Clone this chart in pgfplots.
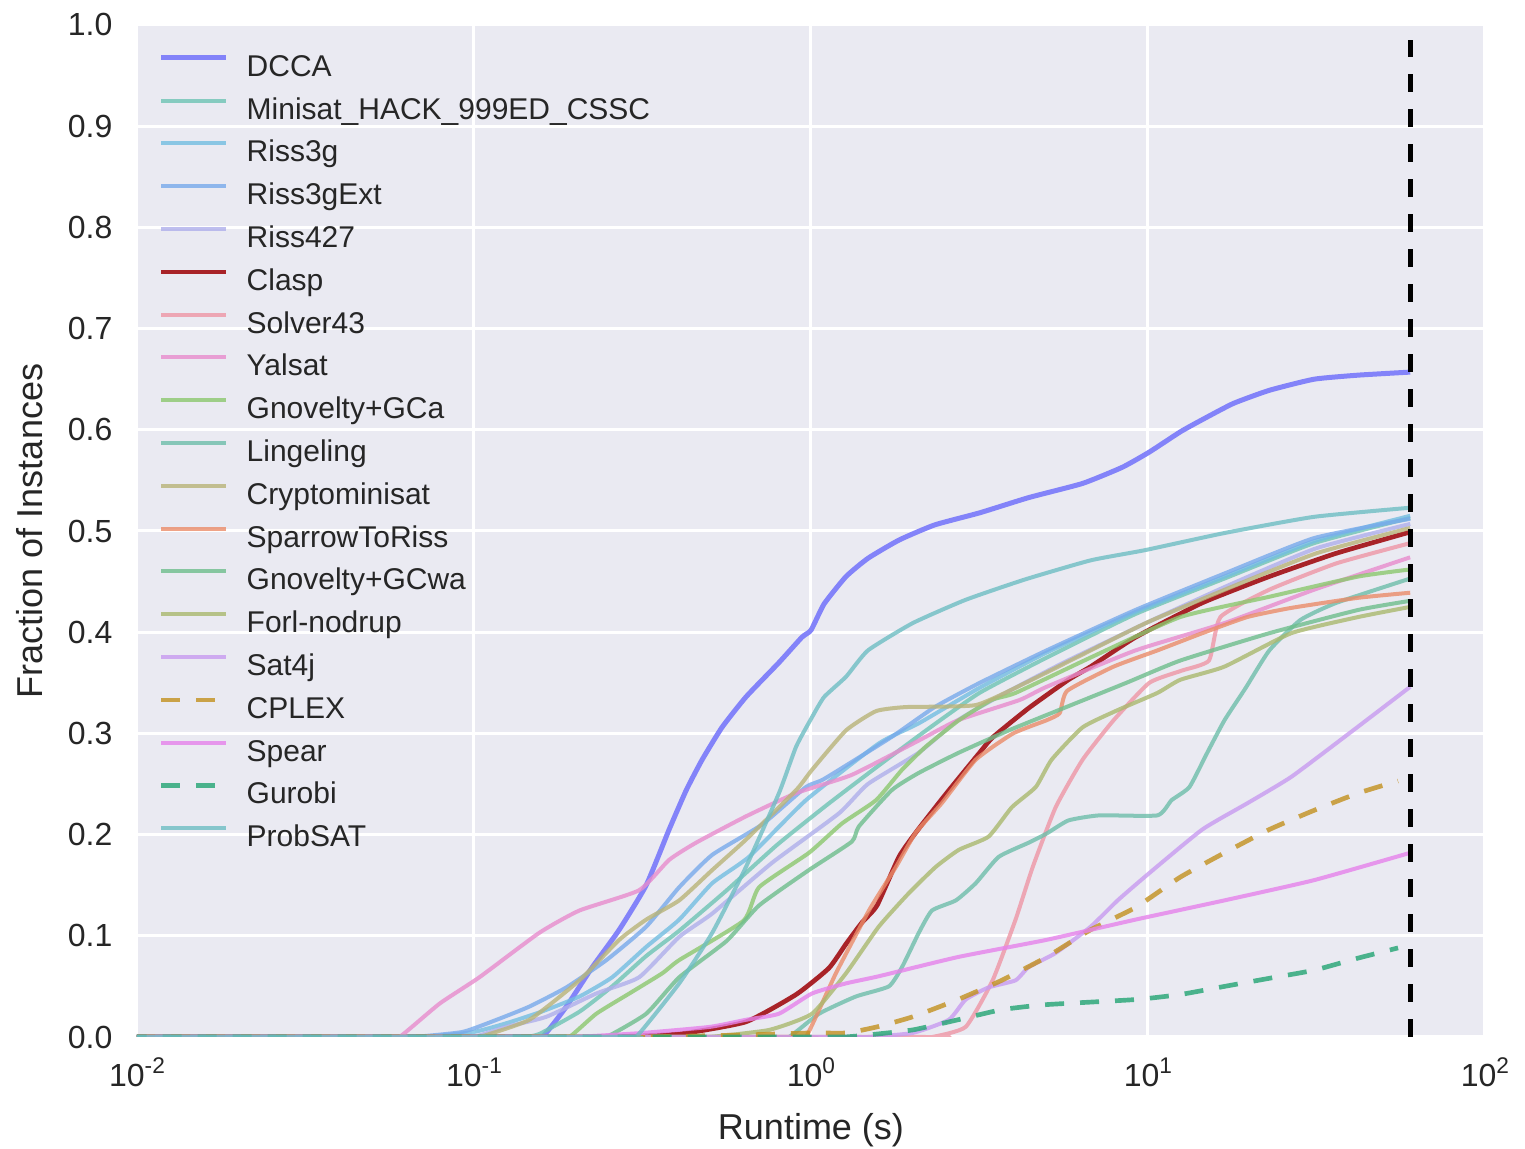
\documentclass[border=0pt]{standalone}
\usepackage{pgfplots}
\pgfplotsset{compat=1.18}
\usepackage{fontspec}
\setmainfont{Liberation Sans}
\definecolor{bgc}{RGB}{234,234,242}
\definecolor{txt}{RGB}{38,38,38}
\definecolor{cdcca}{RGB}{120,120,250}
\definecolor{cminisat}{RGB}{110,196,180}
\definecolor{criss}{RGB}{115,190,225}
\definecolor{crissext}{RGB}{120,170,235}
\definecolor{criss427}{RGB}{175,175,235}
\definecolor{cclasp}{RGB}{165,25,30}
\definecolor{csolver}{RGB}{238,150,165}
\definecolor{cyalsat}{RGB}{232,140,205}
\definecolor{cgca}{RGB}{140,200,110}
\definecolor{cling}{RGB}{110,190,170}
\definecolor{ccrypto}{RGB}{185,180,120}
\definecolor{csparrow}{RGB}{235,140,105}
\definecolor{cgcwa}{RGB}{110,190,140}
\definecolor{cforl}{RGB}{170,185,110}
\definecolor{csat}{RGB}{200,155,240}
\definecolor{ccplex}{RGB}{195,145,30}
\definecolor{cspear}{RGB}{230,130,235}
\definecolor{cgurobi}{RGB}{35,165,115}
\definecolor{cprob}{RGB}{110,190,195}
\newcommand{\tp}[1]{10\raisebox{0.42em}{\fontsize{6.8}{7}\selectfont #1}}
\begin{document}
\begin{tikzpicture}
\begin{axis}[
  scale only axis, width=404.4pt, height=303.6pt,
  xmin=-2, xmax=2, ymin=0, ymax=1,
  axis background/.style={fill=bgc},
  axis line style={draw=none},
  major tick length=0pt,
  grid=major, grid style={white, line width=0.9pt},
  xtick={-2,-1,0,1,2},
  xticklabels={\tp{-2},\tp{-1},\tp{0},\tp{1},\tp{2}},
  ytick={0,0.1,0.2,0.3,0.4,0.5,0.6,0.7,0.8,0.9,1.0},
  /pgf/number format/fixed, /pgf/number format/fixed zerofill, /pgf/number format/precision=1, /pgf/number format/assume math mode=true,
  ticklabel style={font=\fontsize{9.6}{11}\selectfont, text=txt},
  yticklabel style={inner sep=0pt, xshift=-7.2pt},
  xticklabel style={inner sep=0pt, yshift=-6pt},
  xlabel={Runtime (s)}, ylabel={Fraction of Instances},
  label style={font=\fontsize{10.8}{13}\selectfont, text=txt},
  xlabel style={at={(axis description cs:0.5,-0.0919)}, anchor=center},
  ylabel style={at={(axis description cs:-0.0794,0.5)}, anchor=center},
  every axis plot/.append style={line width=1.2pt, opacity=0.8, line join=round, smooth, tension=0.3},
  legend image code/.code={\draw[#1] (0pt,3.2pt) -- (19.5pt,3.2pt); \path (0pt,0pt);},
  legend cell align=left,
  legend style={at={(0.0156,0.97167)}, anchor=north west, draw=none, fill=none, inner sep=0pt,
    font=\fontsize{9}{10.8}\selectfont, text=txt, row sep=4.34pt, column sep=5.4pt,
    nodes={inner sep=0pt, text height=6.6pt, text depth=1.9pt}},
]
% DCCA
\addplot[cdcca, line width=1.5pt, opacity=0.9] coordinates {(-2,0) (-1.9,0) (-0.84,0) (-0.797,0) (-0.726,0.030) (-0.649,0.069) (-0.569,0.106) (-0.489,0.150) (-0.421,0.205) (-0.370,0.244) (-0.323,0.274) (-0.264,0.306) (-0.193,0.336) (-0.095,0.370) (-0.027,0.395) (0.0,0.402) (0.039,0.428) (0.104,0.455) (0.169,0.473) (0.261,0.491) (0.367,0.506) (0.501,0.518) (0.646,0.533) (0.806,0.547) (0.924,0.563) (1.004,0.578) (1.096,0.598) (1.161,0.610) (1.253,0.626) (1.360,0.639) (1.493,0.650) (1.624,0.654) (1.778,0.657)};
\addlegendentry{DCCA}
% Minisat
\addplot[cminisat] coordinates {(-2,0) (-1.9,0) (-0.89,0) (-0.85,0) (-0.806,0.003) (-0.687,0.025) (-0.59,0.050) (-0.489,0.080) (-0.391,0.105) (-0.25,0.145) (-0.1,0.19) (0.05,0.23) (0.2,0.268) (0.35,0.305) (0.5,0.34) (0.7,0.375) (0.963,0.418) (1.227,0.453) (1.493,0.488) (1.778,0.513)};
\addlegendentry{Minisat\_HACK\_999ED\_CSSC}
% Riss3g
\addplot[criss] coordinates {(-2,0) (-1.9,0) (-1.2,0) (-1.15,0) (-1.0,0.005) (-0.9,0.014) (-0.8,0.025) (-0.687,0.040) (-0.59,0.059) (-0.489,0.089) (-0.391,0.116) (-0.293,0.152) (-0.184,0.178) (-0.015,0.234) (0.201,0.290) (0.320,0.310) (0.5,0.345) (0.7,0.380) (0.963,0.420) (1.227,0.455) (1.493,0.490) (1.778,0.515)};
\addlegendentry{Riss3g}
% Riss3gExt
\addplot[crissext] coordinates {(-2,0) (-1.9,0) (-1.23,0) (-1.18,0) (-1.034,0.005) (-0.933,0.017) (-0.836,0.030) (-0.726,0.049) (-0.607,0.076) (-0.489,0.109) (-0.391,0.148) (-0.293,0.18) (-0.145,0.210) (-0.015,0.247) (0.039,0.255) (0.237,0.296) (0.367,0.326) (0.501,0.350) (0.699,0.382) (0.963,0.422) (1.227,0.458) (1.493,0.493) (1.778,0.512)};
\addlegendentry{Riss3gExt}
% Riss427
\addplot[criss427] coordinates {(-2,0) (-1.9,0) (-1.05,0) (-1.0,0) (-0.904,0.010) (-0.785,0.020) (-0.637,0.043) (-0.510,0.059) (-0.391,0.099) (-0.293,0.122) (-0.116,0.172) (0.083,0.221) (0.169,0.250) (0.320,0.281) (0.436,0.313) (0.566,0.338) (0.75,0.37) (1.0,0.41) (1.25,0.448) (1.5,0.483) (1.778,0.507)};
\addlegendentry{Riss427}
% Clasp
\addplot[cclasp, line width=1.4pt, opacity=0.95] coordinates {(-2,0) (-1.9,0) (-0.65,0) (-0.6,0) (-0.391,0.003) (-0.193,0.015) (-0.044,0.042) (0.053,0.068) (0.104,0.092) (0.151,0.113) (0.196,0.130) (0.261,0.178) (0.311,0.202) (0.400,0.240) (0.498,0.280) (0.539,0.296) (0.646,0.325) (0.764,0.353) (0.830,0.366) (0.963,0.395) (1.161,0.429) (1.360,0.455) (1.559,0.478) (1.778,0.499)};
\addlegendentry{Clasp}
% Solver43
\addplot[csolver] coordinates {(-2,0) (-1.9,0) (0.32,0) (0.36,0) (0.459,0.010) (0.539,0.056) (0.607,0.116) (0.658,0.168) (0.726,0.227) (0.806,0.274) (0.898,0.313) (1.004,0.350) (1.10,0.362) (1.181,0.372) (1.215,0.415) (1.360,0.442) (1.559,0.468) (1.778,0.488)};
\addlegendentry{Solver43}
% Yalsat
\addplot[cyalsat] coordinates {(-2,0) (-1.9,0) (-1.26,0) (-1.221,0) (-1.102,0.033) (-0.984,0.059) (-0.806,0.103) (-0.687,0.125) (-0.510,0.145) (-0.421,0.175) (-0.341,0.192) (-0.193,0.218) (-0.044,0.241) (0.121,0.259) (0.320,0.293) (0.436,0.313) (0.619,0.333) (0.699,0.346) (0.963,0.382) (1.227,0.409) (1.493,0.442) (1.778,0.474)};
\addlegendentry{Yalsat}
% Gnovelty+GCa
\addplot[cgca] coordinates {(-2,0) (-1.9,0) (-0.76,0) (-0.717,0) (-0.637,0.023) (-0.539,0.043) (-0.441,0.063) (-0.391,0.076) (-0.2,0.115) (-0.154,0.148) (-0.006,0.182) (0.092,0.211) (0.193,0.234) (0.270,0.264) (0.341,0.287) (0.439,0.313) (0.536,0.333) (0.607,0.340) (0.830,0.375) (1.096,0.415) (1.360,0.435) (1.624,0.455) (1.778,0.462)};
\addlegendentry{Gnovelty+GCa}
% Lingeling
\addplot[cling] coordinates {(-2,0) (-1.9,0) (-0.11,0) (-0.065,0) (0.024,0.023) (0.133,0.040) (0.231,0.050) (0.270,0.069) (0.320,0.103) (0.359,0.125) (0.430,0.135) (0.489,0.152) (0.557,0.178) (0.646,0.192) (0.699,0.201) (0.764,0.214) (0.856,0.219) (1.028,0.219) (1.070,0.234) (1.123,0.247) (1.176,0.281) (1.227,0.313) (1.290,0.345) (1.360,0.382) (1.452,0.412) (1.559,0.429) (1.778,0.453)};
\addlegendentry{Lingeling}
% Cryptominisat
\addplot[ccrypto] coordinates {(-2,0) (-1.9,0) (-1.03,0) (-0.984,0) (-0.836,0.017) (-0.687,0.056) (-0.569,0.096) (-0.489,0.116) (-0.391,0.135) (-0.293,0.165) (-0.193,0.195) (-0.044,0.244) (0.003,0.264) (0.104,0.303) (0.193,0.322) (0.281,0.326) (0.489,0.328) (0.637,0.350) (0.794,0.376) (1.0,0.41) (1.25,0.445) (1.5,0.478) (1.778,0.503)};
\addlegendentry{Cryptominisat}
% SparrowToRiss
\addplot[csparrow] coordinates {(-2,0) (-1.9,0) (-0.06,0) (-0.015,0) (0.074,0.063) (0.172,0.125) (0.252,0.168) (0.311,0.202) (0.388,0.231) (0.489,0.274) (0.6,0.300) (0.699,0.313) (0.738,0.320) (0.76,0.342) (0.898,0.366) (1.028,0.382) (1.161,0.399) (1.295,0.415) (1.425,0.424) (1.624,0.434) (1.778,0.439)};
\addlegendentry{SparrowToRiss}
% Gnovelty+GCwa
\addplot[cgcwa] coordinates {(-2,0) (-1.9,0) (-0.65,0) (-0.607,0) (-0.489,0.023) (-0.391,0.059) (-0.25,0.095) (-0.154,0.130) (-0.006,0.165) (0.121,0.193) (0.142,0.208) (0.240,0.244) (0.320,0.261) (0.439,0.281) (0.587,0.303) (0.735,0.323) (0.936,0.350) (1.096,0.372) (1.360,0.399) (1.624,0.422) (1.778,0.431)};
\addlegendentry{Gnovelty+GCwa}
% Forl-nodrup
\addplot[cforl] coordinates {(-2,0) (-1.9,0) (-0.35,0) (-0.3,0) (-0.124,0.007) (0.003,0.023) (0.104,0.063) (0.201,0.109) (0.290,0.142) (0.370,0.168) (0.439,0.185) (0.527,0.198) (0.596,0.227) (0.667,0.247) (0.714,0.274) (0.806,0.306) (0.910,0.323) (1.028,0.340) (1.096,0.353) (1.227,0.366) (1.425,0.399) (1.624,0.415) (1.778,0.425)};
\addlegendentry{Forl-nodrup}
% Sat4j
\addplot[csat] coordinates {(-2,0) (-1.9,0) (0.12,0) (0.169,0) (0.302,0.004) (0.409,0.017) (0.459,0.037) (0.527,0.049) (0.607,0.056) (0.646,0.069) (0.726,0.083) (0.830,0.109) (0.910,0.135) (1.004,0.162) (1.161,0.205) (1.295,0.231) (1.425,0.257) (1.597,0.300) (1.778,0.346)};
\addlegendentry{Sat4j}
% CPLEX
\addplot[ccplex, line width=1.4pt, dash pattern=on 5.7pt off 4.8pt] coordinates {(-2,0) (-1.9,0) (-0.55,0) (-0.5,0) (-0.2,0.002) (0.0,0.004) (0.104,0.004) (0.196,0.010) (0.302,0.020) (0.436,0.037) (0.566,0.056) (0.699,0.079) (0.830,0.106) (0.963,0.128) (1.096,0.158) (1.227,0.182) (1.360,0.205) (1.493,0.224) (1.624,0.241) (1.742,0.253)};
\addlegendentry{CPLEX}
% Spear
\addplot[cspear] coordinates {(-2,0) (-1.9,0) (-0.75,0) (-0.7,0) (-0.5,0.004) (-0.3,0.010) (-0.193,0.017) (-0.095,0.023) (0.003,0.043) (0.104,0.053) (0.201,0.060) (0.436,0.079) (0.699,0.096) (0.963,0.116) (1.227,0.135) (1.493,0.155) (1.778,0.182)};
\addlegendentry{Spear}
% Gurobi
\addplot[cgurobi, line width=1.4pt, dash pattern=on 5.7pt off 4.8pt] coordinates {(-2,0) (-1.9,0) (0.05,0) (0.1,0) (0.169,0.002) (0.302,0.007) (0.436,0.017) (0.566,0.027) (0.699,0.032) (0.963,0.037) (1.096,0.042) (1.227,0.050) (1.360,0.058) (1.493,0.066) (1.624,0.078) (1.742,0.088)};
\addlegendentry{Gurobi}
% ProbSAT
\addplot[cprob] coordinates {(-2,0) (-1.9,0) (-0.56,0) (-0.519,0) (-0.391,0.053) (-0.293,0.103) (-0.193,0.168) (-0.095,0.241) (-0.044,0.287) (0.003,0.316) (0.039,0.336) (0.104,0.356) (0.169,0.382) (0.302,0.409) (0.459,0.432) (0.634,0.452) (0.830,0.471) (0.990,0.481) (1.227,0.498) (1.493,0.514) (1.778,0.523)};
\addlegendentry{ProbSAT}
% cutoff
\addplot[black, line width=1.5pt, opacity=1, sharp plot, dash pattern=on 5.4pt off 5.1pt, forget plot] coordinates {(1.778,0) (1.778,0.985)};
\end{axis}
\pgfresetboundingbox
\path ([shift={(-41.1pt,-33.6pt)}]current axis.south west) rectangle ([shift={(12pt,7.5pt)}]current axis.north east);
\end{tikzpicture}
\end{document}
